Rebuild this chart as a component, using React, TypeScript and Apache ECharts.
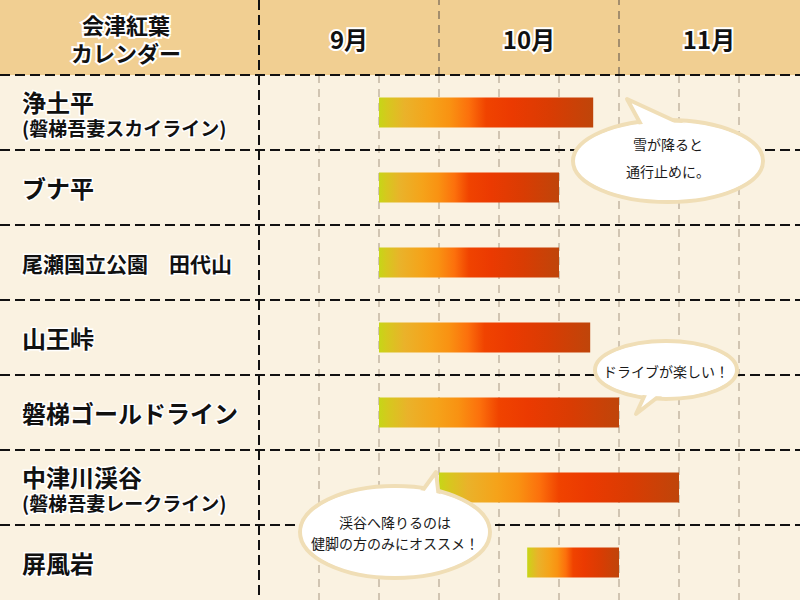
import React, { useEffect, useRef } from "react";
import * as echarts from "echarts";

// ---- data (units: 10-day periods counted from 1 Sep: 0 = 9月上旬 start, 3 = 10月1日, 6 = 11月1日, 9 = 11月末) ----
const categories = [
  "浄土平",
  "ブナ平",
  "尾瀬国立公園　田代山",
  "山王峠",
  "磐梯ゴールドライン",
  "中津川渓谷",
  "屏風岩",
];
const subLabels = [
  "(磐梯吾妻スカイライン)",
  "",
  "",
  "",
  "",
  "(磐梯吾妻レークライン)",
  "",
];
const startValues = [2, 2, 2, 2, 2, 3, 4.47];
const endValues = [5.57, 5, 5, 5.52, 6, 7, 6];
const months = ["9月", "10月", "11月"];
const monthLabelValues = [1.5, 4.5, 7.5];
const monthBoundaryValues = [3, 6];
const headerTitleLines = ["会津紅葉", "カレンダー"];
const notes = ["雪が降ると\n通行止めに。", "ドライブが楽しい！", "渓谷へ降りるのは\n健脚の方のみにオススメ！"];

const FONT = '"Noto Sans CJK JP", "Noto Sans", sans-serif';
const BODY_BG = "#faf2e1";
const HEADER_BG = "#f1cf92";

function bubble(
  cx: number,
  cy: number,
  rx: number,
  ry: number,
  tail: number[][],
  text: string,
  textY: number,
  lineHeight: number
) {
  const border = "#f0deb6";
  return {
    type: "group",
    z: 100,
    children: [
      { type: "ellipse", z: 100, shape: { cx, cy, rx, ry }, style: { fill: "#ffffff", stroke: border, lineWidth: 4 } },
      { type: "polygon", z: 101, shape: { points: tail }, style: { fill: "#ffffff", stroke: border, lineWidth: 4, lineJoin: "round" } },
      { type: "ellipse", z: 102, shape: { cx, cy, rx: rx - 2.5, ry: ry - 2.5 }, style: { fill: "#ffffff" } },
      {
        type: "text",
        z: 103,
        x: cx,
        y: textY,
        style: {
          text,
          fill: "#1a1a1a",
          font: `14px ${FONT}`,
          align: "center",
          verticalAlign: "middle",
          lineHeight,
        },
      },
    ],
  };
}

export default function App() {
  const ref = useRef<HTMLDivElement | null>(null);

  useEffect(() => {
    if (!ref.current) return;
    const chart = echarts.init(ref.current, null, { renderer: "svg" });

    const gridLeft = 259;
    const gridTop = 75;
    const rowH = (600 - gridTop) / categories.length;

    const gradient = new echarts.graphic.LinearGradient(0, 0, 1, 0, [
      { offset: 0, color: "#c6d617" },
      { offset: 0.04, color: "#d6c81e" },
      { offset: 0.12, color: "#eab22a" },
      { offset: 0.24, color: "#f5a31a" },
      { offset: 0.33, color: "#f99212" },
      { offset: 0.42, color: "#fc700c" },
      { offset: 0.5, color: "#f04300" },
      { offset: 0.62, color: "#eb3a01" },
      { offset: 0.8, color: "#d93c03" },
      { offset: 1, color: "#bf450a" },
    ]);

    const graphics: any[] = [
      // header background
      { type: "rect", z: -10, shape: { x: 0, y: 0, width: 800, height: gridTop }, style: { fill: HEADER_BG } },
      // label column divider
      {
        type: "line",
        z: 40,
        shape: { x1: gridLeft, y1: 0, x2: gridLeft, y2: 600 },
        style: { stroke: "#111", lineWidth: 2, lineDash: [10, 5] },
      },
    ];
    // header title (two lines)
    headerTitleLines.forEach((t, i) => {
      graphics.push({
        type: "text",
        z: 50,
        x: 126,
        y: 24 + i * 28,
        style: {
          text: t,
          font: `bold 22px ${FONT}`,
          fill: "#111",
          align: "center",
          verticalAlign: "middle",
          stroke: "#ffffff",
          lineWidth: 4,
        },
      });
    });
    // row separators (full width)
    for (let i = 0; i < categories.length; i++) {
      const y = gridTop + rowH * i;
      graphics.push({
        type: "line",
        z: 40,
        shape: { x1: 0, y1: y, x2: 800, y2: y },
        style: { stroke: "#111", lineWidth: 2, lineDash: [10, 5] },
      });
    }
    graphics.push(
      bubble(668, 161, 95, 41, [[645, 132], [627, 99], [690, 128]], notes[0], 157, 27),
      bubble(666, 370, 71, 29, [[649, 386], [636, 414], [672, 386]], notes[1], 371, 20),
      bubble(395, 532, 95, 46, [[412, 505], [436, 472], [440, 507]], notes[2], 532, 21)
    );

    chart.setOption({
      animation: false,
      backgroundColor: BODY_BG,
      grid: { left: gridLeft, top: gridTop, width: 540, height: 600 - gridTop, containLabel: false },
      xAxis: [
        {
          type: "value",
          min: 0,
          max: 9,
          interval: 1,
          position: "bottom",
          axisLine: { show: false },
          axisTick: { show: false },
          axisLabel: { show: false },
          splitLine: {
            show: true,
            showMinLine: false,
            showMaxLine: false,
            lineStyle: { color: "#c3b7a2", width: 1.5, type: [8, 6] },
          },
        },
        {
          type: "value",
          min: 0,
          max: 9,
          position: "top",
          axisLine: { show: false },
          axisTick: {
            show: true,
            customValues: monthBoundaryValues,
            length: gridTop,
            inside: false,
            lineStyle: { color: "#8a7a62", width: 1.5, type: [8, 6] },
          },
          axisLabel: {
            show: true,
            customValues: monthLabelValues,
            formatter: (v: number) => months[Math.round((v - 1.5) / 3)] ?? "",
            margin: 37,
            verticalAlign: "middle",
            fontFamily: FONT,
            fontSize: 24,
            fontWeight: "bold",
            color: "#111",
            textBorderColor: "#ffffff",
            textBorderWidth: 4,
          },
          splitLine: { show: false },
        },
      ],
      yAxis: {
        type: "category",
        inverse: true,
        data: categories,
        axisLine: { show: false },
        axisTick: { show: false },
        splitLine: { show: false },
        axisLabel: {
          align: "left",
          margin: gridLeft - 22,
          fontFamily: FONT,
          color: "#111",
          textBorderColor: "#ffffff",
          textBorderWidth: 3,
          formatter: (value: string, index: number) => {
            const style = value.length > 9 ? "c" : "a";
            return subLabels[index]
              ? `{${style}|${value}}\n{b|${subLabels[index]}}`
              : `{${style}|${value}}`;
          },
          rich: {
            a: {
              fontFamily: FONT,
              fontSize: 24,
              fontWeight: "bold",
              lineHeight: 29,
              color: "#111",
              textBorderColor: "#ffffff",
              textBorderWidth: 3,
            },
            c: {
              fontFamily: FONT,
              fontSize: 21,
              fontWeight: "bold",
              lineHeight: 29,
              color: "#111",
              textBorderColor: "#ffffff",
              textBorderWidth: 3,
            },
            b: {
              fontFamily: FONT,
              fontSize: 19,
              fontWeight: "bold",
              lineHeight: 23,
              color: "#111",
              textBorderColor: "#ffffff",
              textBorderWidth: 3,
            },
          },
        },
      },
      series: [
        {
          type: "bar",
          stack: "period",
          xAxisIndex: 0,
          silent: true,
          barWidth: 30,
          itemStyle: { color: "rgba(0,0,0,0)" },
          data: startValues,
        },
        {
          type: "bar",
          stack: "period",
          xAxisIndex: 0,
          barWidth: 30,
          itemStyle: { color: gradient },
          data: endValues.map((e, i) => +(e - startValues[i]).toFixed(3)),
        },
      ],
      graphic: graphics,
    });

    return () => chart.dispose();
  }, []);

  return (
    <div
      ref={ref}
      style={{ position: "absolute", left: 0, top: 0, width: 800, height: 600 }}
    />
  );
}
